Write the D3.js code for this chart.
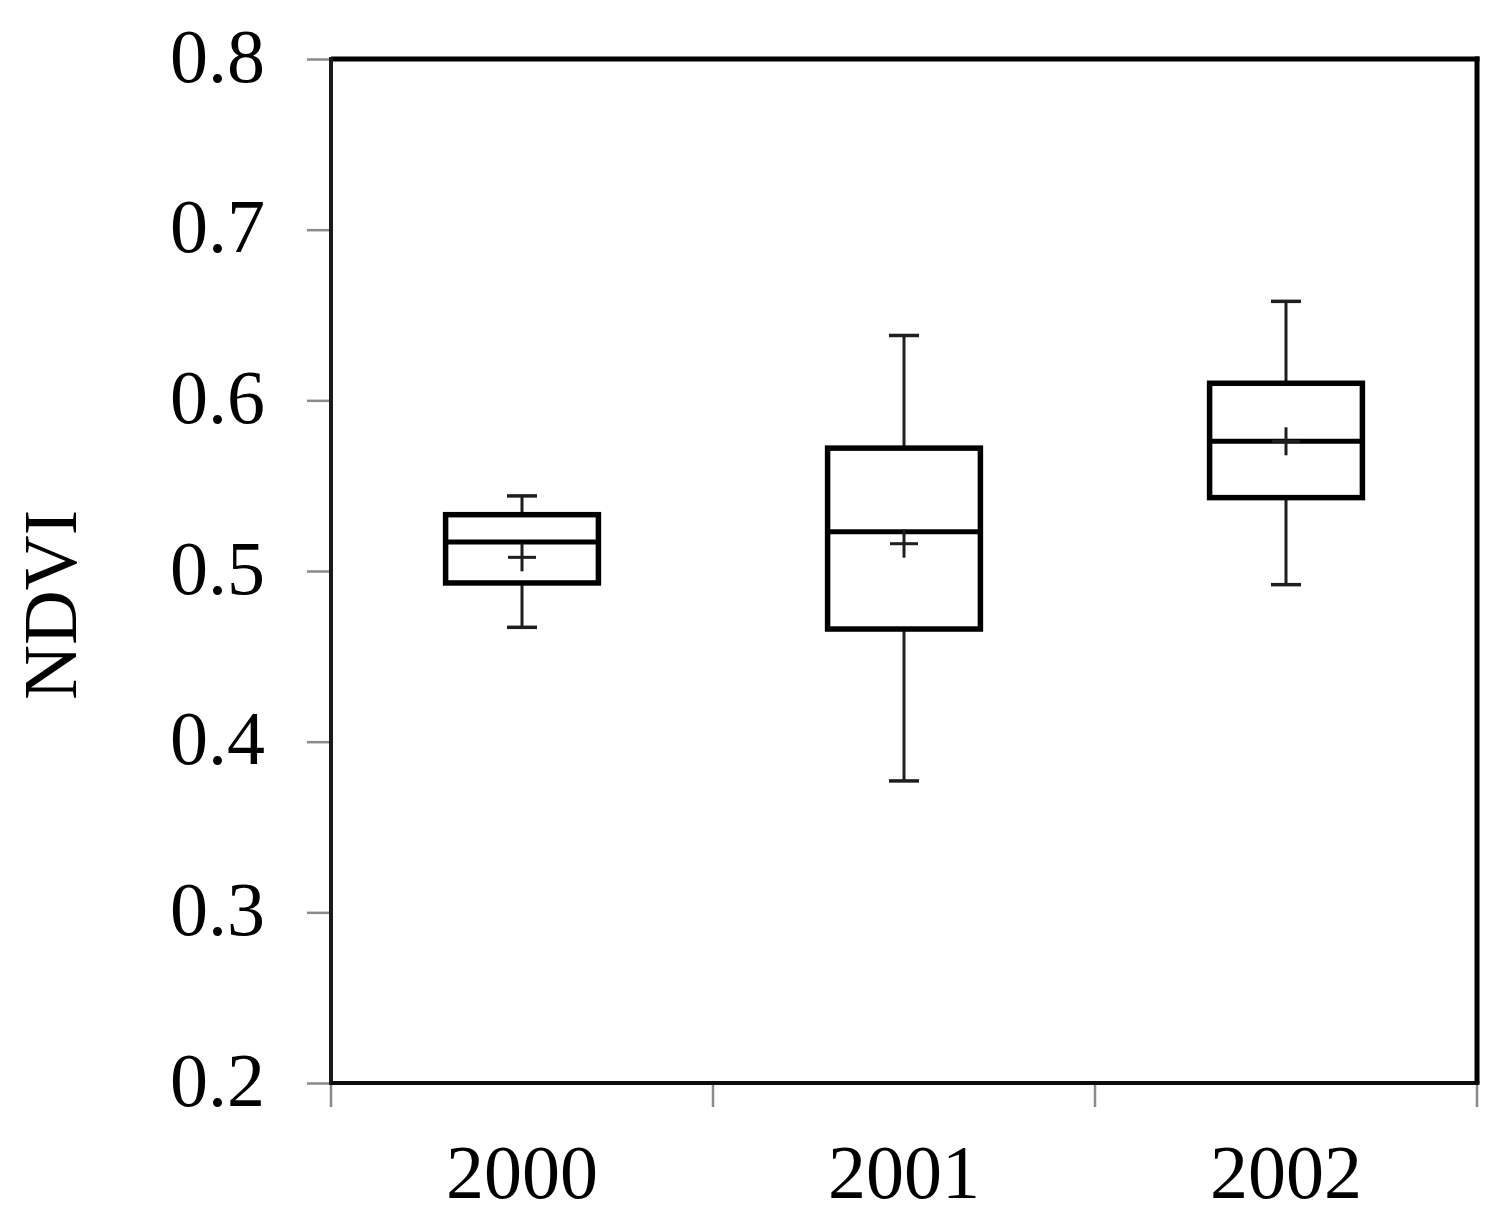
<!DOCTYPE html>
<html>
<head>
<meta charset="utf-8">
<script src="https://cdn.jsdelivr.net/npm/d3@7"></script>
<style>
  html, body { margin: 0; padding: 0; background: #fff; }
  svg { display: block; }
</style>
</head>
<body>
<script>
// ---- Data ----
const years = ["2000", "2001", "2002"];
const whiskerLow  = [0.467, 0.377, 0.492];
const q1Values    = [0.493, 0.466, 0.543];
const medianValues= [0.517, 0.523, 0.576];
const q3Values    = [0.533, 0.572, 0.610];
const whiskerHigh = [0.544, 0.638, 0.658];
const meanValues  = [0.508, 0.516, 0.576];
const yTicks = [0.2, 0.3, 0.4, 0.5, 0.6, 0.7, 0.8];
const yLabel = "NDVI";

const W = 1501, H = 1226;
const margin = { left: 331, right: 24, top: 59, bottom: 143 };
const x0 = margin.left, x1 = W - margin.right;
const y0 = H - margin.bottom, y1 = margin.top;

const svg = d3.select("body").append("svg")
  .attr("width", W).attr("height", H);

const x = d3.scaleBand().domain(years).range([x0, x1]).padding(0);
const y = d3.scaleLinear().domain([0.2, 0.8]).range([y0, y1]);

const font = "'Liberation Serif', 'Times New Roman', serif";

// Y axis
const yAxis = d3.axisLeft(y).tickValues(yTicks).tickFormat(d3.format(".1f"))
  .tickSizeInner(24).tickSizeOuter(0).tickPadding(42);
const gy = svg.append("g").attr("transform", `translate(${x0},0)`).call(yAxis);
gy.select(".domain").remove();
gy.selectAll(".tick line").attr("stroke", "#8a8a8a").attr("stroke-width", 2.5);
gy.selectAll(".tick text").attr("font-family", font).attr("font-size", 76)
  .attr("fill", "#000").attr("dy", "0.29em");

// X axis: ticks at band boundaries
const boundaries = years.map(d => x(d)).concat([x1]);
svg.append("g").selectAll("line").data(boundaries).join("line")
  .attr("x1", d => d).attr("x2", d => d)
  .attr("y1", y0).attr("y2", y0 + 24)
  .attr("stroke", "#8a8a8a").attr("stroke-width", 2.5);
svg.append("g").selectAll("text").data(years).join("text")
  .attr("x", d => x(d) + x.bandwidth() / 2)
  .attr("y", 1198)
  .attr("text-anchor", "middle")
  .attr("font-family", font).attr("font-size", 76).attr("fill", "#000")
  .text(d => d);

// Frame
svg.append("line").attr("x1", x0).attr("x2", x1 + 2.5).attr("y1", y1).attr("y2", y1)
  .attr("stroke", "#000").attr("stroke-width", 5);
svg.append("line").attr("x1", x1).attr("x2", x1).attr("y1", y1 - 2.5).attr("y2", y0)
  .attr("stroke", "#000").attr("stroke-width", 5);
svg.append("line").attr("x1", x0).attr("x2", x0).attr("y1", y1 - 2).attr("y2", y0 + 2)
  .attr("stroke", "#1a1a1a").attr("stroke-width", 4);
svg.append("line").attr("x1", x0).attr("x2", x1 + 2.5).attr("y1", y0).attr("y2", y0)
  .attr("stroke", "#0d0d0d").attr("stroke-width", 4);

// Y label
svg.append("text")
  .attr("transform", `translate(76, ${(y0 + y1) / 2 + 34}) rotate(-90)`)
  .attr("text-anchor", "middle")
  .attr("font-family", font).attr("font-size", 76).attr("fill", "#000")
  .text(yLabel);

// Boxes
const data = years.map((yr, i) => ({
  yr, lo: whiskerLow[i], q1: q1Values[i], med: medianValues[i],
  q3: q3Values[i], hi: whiskerHigh[i], mean: meanValues[i]
}));

const boxW = x.bandwidth() * 0.4;
const capW = 30;
const crossW = 28;

const g = svg.append("g").selectAll("g").data(data).join("g")
  .attr("transform", d => `translate(${x(d.yr) + x.bandwidth() / 2},0)`);

// whiskers
g.append("line").attr("x1", 0).attr("x2", 0)
  .attr("y1", d => y(d.hi)).attr("y2", d => y(d.q3))
  .attr("stroke", "#1e1e1e").attr("stroke-width", 3);
g.append("line").attr("x1", 0).attr("x2", 0)
  .attr("y1", d => y(d.lo)).attr("y2", d => y(d.q1))
  .attr("stroke", "#1e1e1e").attr("stroke-width", 3);
g.append("line").attr("x1", -capW / 2).attr("x2", capW / 2)
  .attr("y1", d => y(d.hi)).attr("y2", d => y(d.hi))
  .attr("stroke", "#1e1e1e").attr("stroke-width", 3.5);
g.append("line").attr("x1", -capW / 2).attr("x2", capW / 2)
  .attr("y1", d => y(d.lo)).attr("y2", d => y(d.lo))
  .attr("stroke", "#1e1e1e").attr("stroke-width", 3.5);

// box
g.append("rect")
  .attr("x", -boxW / 2).attr("width", boxW)
  .attr("y", d => y(d.q3)).attr("height", d => y(d.q1) - y(d.q3))
  .attr("fill", "none").attr("stroke", "#000").attr("stroke-width", 5.5);

// median
g.append("line").attr("x1", -boxW / 2).attr("x2", boxW / 2)
  .attr("y1", d => y(d.med)).attr("y2", d => y(d.med))
  .attr("stroke", "#000").attr("stroke-width", 5);

// mean cross
g.append("line").attr("x1", -crossW / 2).attr("x2", crossW / 2)
  .attr("y1", d => y(d.mean)).attr("y2", d => y(d.mean))
  .attr("stroke", "#1e1e1e").attr("stroke-width", 3);
g.append("line").attr("x1", 0).attr("x2", 0)
  .attr("y1", d => y(d.mean) - crossW / 2).attr("y2", d => y(d.mean) + crossW / 2)
  .attr("stroke", "#1e1e1e").attr("stroke-width", 3);
</script>
</body>
</html>
